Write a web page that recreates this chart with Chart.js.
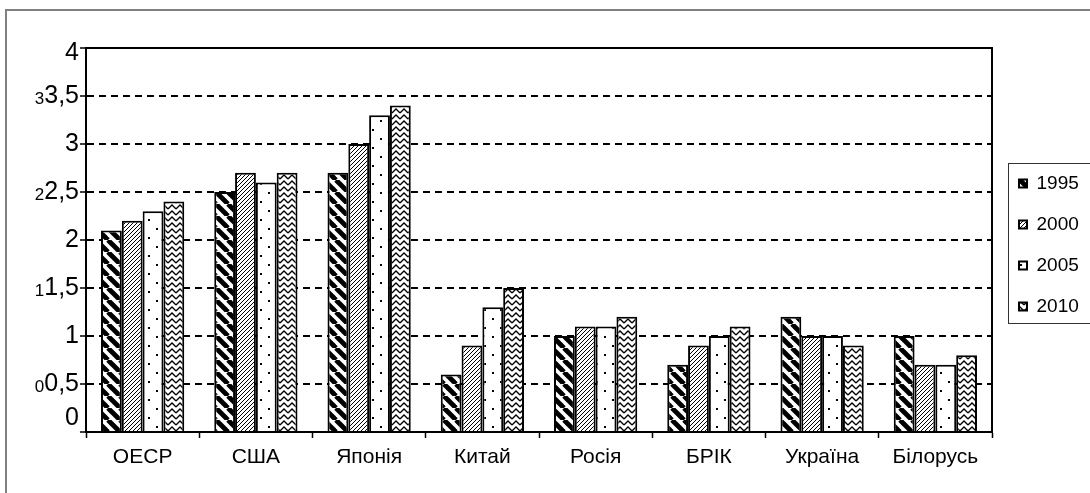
<!DOCTYPE html>
<html>
<head>
<meta charset="utf-8">
<script src="https://cdn.jsdelivr.net/npm/chart.js@4.4.1/dist/chart.umd.min.js"></script>
<style>
    body { margin: 0; background: #fff; }
</style>
</head>
<body>
<canvas id="chart" width="1090" height="493"></canvas>
<script>
let categories = ['ОЕСР', 'США', 'Японія', 'Китай', 'Росія', 'БРІК', 'Україна', 'Білорусь'];
let years = ['1995', '2000', '2005', '2010'];
let values1995 = [2.1, 2.5, 2.7, 0.6, 1.0, 0.7, 1.2, 1.0];
let values2000 = [2.2, 2.7, 3.0, 0.9, 1.1, 0.9, 1.0, 0.7];
let values2005 = [2.3, 2.6, 3.3, 1.3, 1.1, 1.0, 1.0, 0.7];
let values2010 = [2.4, 2.7, 3.4, 1.5, 1.2, 1.1, 0.9, 0.8];
let yTicks = [0, 0.5, 1, 1.5, 2, 2.5, 3, 3.5, 4];

let font = '"Liberation Sans", Arial, sans-serif';
Chart.defaults.font.family = font;
Chart.defaults.color = '#000';

let ctx = document.getElementById('chart').getContext('2d');

let makePattern = (w, h, draw) => {
    let c = document.createElement('canvas');
    c.width = w;
    c.height = h;
    let g = c.getContext('2d');
    g.fillStyle = '#fff';
    g.fillRect(0, 0, w, h);
    g.strokeStyle = '#000';
    g.fillStyle = '#000';
    draw(g, w, h);
    return ctx.createPattern(c, 'repeat');
}

// 1995: wide black "\" stripes
let wideStripes = makePattern(12, 12, (g, w, h) => {
    g.lineWidth = 4.8;
    for (let x0 = -w; x0 <= w; x0 += w) {
        g.beginPath();
        g.moveTo(x0, 0);
        g.lineTo(x0 + w, h);
        g.stroke();
    }
});

// 2000: thin "/" hatching
let thinHatch = makePattern(4, 4, (g, w, h) => {
    g.lineWidth = 1;
    for (let x0 = -w; x0 <= w; x0 += w) {
        g.beginPath();
        g.moveTo(x0, h);
        g.lineTo(x0 + w, 0);
        g.stroke();
    }
});

// 2005: sparse dots
let dots = makePattern(16, 18, (g) => {
    g.fillRect(4, 3, 2, 2);
    g.fillRect(12, 12, 2, 2);
});

// 2010: zigzag
let zigzag = makePattern(8, 6, (g) => {
    g.lineWidth = 1.3;
    g.beginPath();
    g.moveTo(0, 5);
    g.lineTo(4, 1);
    g.lineTo(8, 5);
    g.stroke();
});

let fills = [wideStripes, thinHatch, dots, zigzag];
let series = [values1995, values2000, values2005, values2010];

// legend sits inside its own frame to the right of the plot
let legendPlace = {
    id: 'legendPlace',
    afterLayout: (chart) => {
        let lg = chart.legend;
        let pad = lg.options.labels.padding;
        lg.left = 1019 - pad;
        lg.right = chart.width;
        lg.top = 174 - pad;
        lg.bottom = chart.height;
        lg.width = lg.right - lg.left;
        lg.height = lg.bottom - lg.top;
    }
}

let frames = {
    id: 'frames',
    afterDraw: (chart) => {
        let c = chart.ctx;
        let area = chart.chartArea;
        c.save();
        c.strokeStyle = '#808080';
        c.lineWidth = 2;
        c.strokeRect(6, 10, 1200, 600);

        c.strokeStyle = '#000';
        c.lineWidth = 2;
        c.beginPath();
        c.moveTo(area.left, area.top);
        c.lineTo(area.right, area.top);
        c.lineTo(area.right, area.bottom);
        c.stroke();

        c.strokeStyle = '#333';
        c.lineWidth = 1;
        c.strokeRect(1008.5, 163.5, 200, 160);
        c.restore();
    }
}

// small stray digits printed just left of the half-step labels
let ghostDigits = {
    id: 'ghostDigits',
    afterDraw: (chart) => {
        let y = chart.scales.y;
        let c = chart.ctx;
        c.save();
        c.fillStyle = '#000';
        c.textAlign = 'right';
        c.textBaseline = 'alphabetic';
        yTicks.forEach((v) => {
            if (v % 1 !== 0.5) return;
            c.font = '25px ' + font;
            let w = c.measureText(String(v).replace('.', ',')).width;
            c.font = '17px ' + font;
            c.fillText(String(Math.floor(v)), y.right - 7 - w, y.getPixelForValue(v) + 8);
        });
        c.restore();
    }
}

let myChart = new Chart(ctx, {
    type: 'bar',
    data: {
        labels: categories,
        datasets: years.map((year, i) => ({
            label: year,
            data: series[i],
            backgroundColor: fills[i],
            borderColor: '#000',
            borderWidth: 2,
            categoryPercentage: 0.735,
            barPercentage: 1
        }))
    },
    options: {
        responsive: false,
        animation: false,
        layout: {
            padding: { left: 10, top: 48, right: 38, bottom: 0 }
        },
        plugins: {
            tooltip: { enabled: false },
            legend: {
                position: 'right',
                align: 'start',
                maxWidth: 60,
                labels: {
                    boxWidth: 8,
                    boxHeight: 8,
                    padding: 22,
                    color: '#000',
                    font: { size: 19 }
                }
            }
        },
        scales: {
            x: {
                afterFit: (s) => { s.height = 61; },
                grid: {
                    drawOnChartArea: false,
                    drawTicks: true,
                    tickLength: 6,
                    tickColor: '#000',
                    tickWidth: 1.5
                },
                border: { color: '#000', width: 2 },
                ticks: {
                    padding: 7,
                    font: { size: 21 },
                    color: '#000'
                }
            },
            y: {
                min: 0,
                max: 4,
                afterFit: (s) => { s.width = 76; },
                afterBuildTicks: (s) => { s.ticks = yTicks.map(v => ({ value: v })); },
                grid: {
                    color: '#000',
                    lineWidth: 2,
                    tickLength: 6,
                    tickColor: '#000',
                    tickWidth: 1.5
                },
                border: { color: '#000', width: 2, dash: [7, 5] },
                ticks: {
                    autoSkip: false,
                    padding: 1,
                    color: '#000',
                    font: (c) => ({ size: 25, lineHeight: c.tick && c.tick.value === 4 ? 0.4 : 1.15 }),
                    callback: (v) => v === 0 ? ['0', ''] : v === 4 ? ['', '4'] : String(v).replace('.', ',')
                }
            }
        }
    },
    plugins: [legendPlace, frames, ghostDigits]
});
</script>
</body>
</html>
